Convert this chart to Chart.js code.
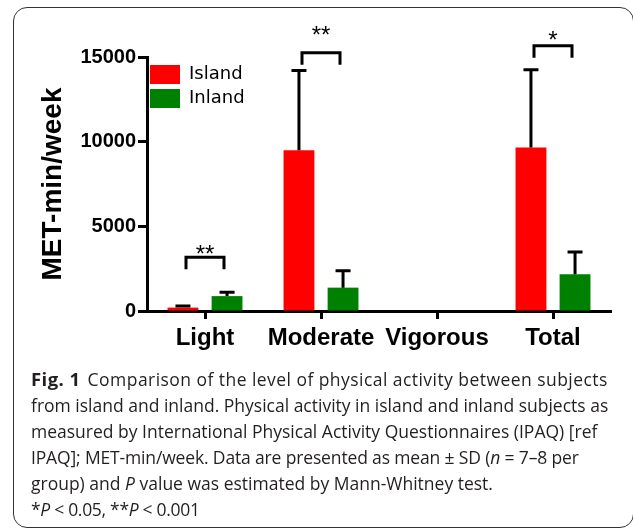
<!DOCTYPE html>
<html>
<head>
<meta charset="utf-8">
<script src="https://cdn.jsdelivr.net/npm/chart.js@4.4.1/dist/chart.umd.min.js"></script>
<style>
  html, body { margin: 0; padding: 0; background: #fff; }
  body { width: 633px; height: 529px; position: relative; overflow: hidden; }
  #chart { position: absolute; left: 0; top: 0; }
  #frame { position: absolute; left: 13px; top: 7px; width: 621px; height: 521px; box-sizing: border-box;
           border: 1.5px solid #333; border-radius: 14px; pointer-events: none; }
  #cap { position: absolute; left: 31px; top: 366px; font-family: 'Open Sans', sans-serif; font-size: 17.5px;
         line-height: 26px; color: #231f20; white-space: nowrap; }
  #cap b { font-weight: 700; font-size: 18.5px; margin-right: 2px; }
  #cap .l1 { letter-spacing: 0.45px; }
  #cap .l4 { letter-spacing: -0.15px; }
  #cap .l6 { letter-spacing: -0.3px; }
</style>
</head>
<body>
<canvas id="chart" width="633" height="365"></canvas>
<div id="frame"></div>
<div id="cap">
  <div class="l1"><b>Fig. 1</b> Comparison of the level of physical activity between subjects</div>
  <div>from island and inland. Physical activity in island and inland subjects as</div>
  <div>measured by International Physical Activity Questionnaires (IPAQ) [ref</div>
  <div class="l4">IPAQ]; MET-min/week. Data are presented as mean ± SD (<i>n</i> = 7–8 per</div>
  <div>group) and <i>P</i> value was estimated by Mann-Whitney test.</div>
  <div class="l6">*<i>P</i> &lt; 0.05, **<i>P</i> &lt; 0.001</div>
</div>
<script>
const categories = ['Light', 'Moderate', 'Vigorous', 'Total'];
const seriesNames = ['Island', 'Inland'];
const islandMean = [200, 9500, 0, 9650];
const islandSD   = [100, 4700, 0, 4600];
const inlandMean = [880, 1380, 0, 2170];
const inlandSD   = [230, 1000, 0, 1320];
const sigLabels  = ['**', '**', '', '*'];
const bracketAt  = [3170, 15250, 0, 15670];
const sigLabelAt = [3720, 16600, 0, 16350];
const yTicks     = [0, 5000, 10000, 15000];

const means = [islandMean, inlandMean];
const sds = [islandSD, inlandSD];

const annotate = {
  id: 'annotate',
  afterLayout(chart) {
    if (chart.legend) {
      chart.legend.left = chart.chartArea.left - 2;
      chart.legend.top = chart.chartArea.top + 3;
    }
  },
  afterDatasetsDraw(chart) {
    const ctx = chart.ctx;
    const ys = chart.scales.y, xs = chart.scales.x;
    ctx.save();
    ctx.strokeStyle = '#000';
    ctx.lineWidth = 3;
    sds.forEach((sd, di) => {
      const meta = chart.getDatasetMeta(di);
      meta.data.forEach((bar, i) => {
        if (!sd[i]) return;
        const top = ys.getPixelForValue(means[di][i] + sd[i]);
        ctx.beginPath();
        ctx.moveTo(bar.x, bar.y);
        ctx.lineTo(bar.x, top);
        ctx.moveTo(bar.x - 7.5, top);
        ctx.lineTo(bar.x + 7.5, top);
        ctx.stroke();
      });
    });
    ctx.fillStyle = '#000';
    ctx.font = '24px "Liberation Sans", Arial, sans-serif';
    ctx.textAlign = 'center';
    ctx.textBaseline = 'alphabetic';
    sigLabels.forEach((lab, i) => {
      if (!lab) return;
      const cx = xs.getPixelForValue(i);
      const yt = ys.getPixelForValue(bracketAt[i]);
      ctx.beginPath();
      ctx.moveTo(cx - 19, yt + 12);
      ctx.lineTo(cx - 19, yt);
      ctx.lineTo(cx + 19, yt);
      ctx.lineTo(cx + 19, yt + 12);
      ctx.stroke();
      ctx.fillText(lab, cx, ys.getPixelForValue(sigLabelAt[i]) + 13.5);
    });
    ctx.restore();
  }
};

new Chart(document.getElementById('chart'), {
  type: 'bar',
  data: {
    labels: categories,
    datasets: [
      { label: seriesNames[0], data: islandMean, backgroundColor: '#ff0000', borderWidth: 0 },
      { label: seriesNames[1], data: inlandMean, backgroundColor: '#008000', borderWidth: 0 }
    ]
  },
  options: {
    responsive: false,
    animation: false,
    devicePixelRatio: 1,
    categoryPercentage: 0.76,
    barPercentage: 0.70,
    layout: { padding: { left: 0, top: 57, right: 22, bottom: 0 } },
    plugins: {
      legend: {
        position: 'chartArea',
        align: 'start',
        labels: {
          boxWidth: 30, boxHeight: 19, padding: 5, color: '#000',
          font: { family: 'DejaVu Sans', size: 18 }
        }
      },
      tooltip: { enabled: false }
    },
    scales: {
      x: {
        offset: true,
        grid: { display: true, drawOnChartArea: false, drawTicks: true, tickLength: 8, tickWidth: 3, tickColor: '#000', offset: false },
        border: { display: true, color: '#000', width: 3 },
        ticks: { color: '#000', font: { family: 'Liberation Sans', weight: 'bold', size: 24 }, padding: 5, maxRotation: 0, autoSkip: false },
        afterFit: s => { s.height = 54; }
      },
      y: {
        min: 0, max: 15000,
        afterBuildTicks: s => { s.ticks = yTicks.map(v => ({ value: v })); },
        grid: { display: true, drawOnChartArea: false, drawTicks: true, tickLength: 9, tickWidth: 3, tickColor: '#000' },
        border: { display: true, color: '#000', width: 3 },
        ticks: { color: '#000', font: { family: 'Liberation Sans', weight: 'bold', size: 20 }, padding: 2,
                 callback: v => String(v) },
        title: { display: true, text: 'MET-min/week', color: '#000',
                 font: { family: 'Liberation Sans', weight: 'bold', size: 28, lineHeight: 1 },
                 padding: { top: 39, bottom: 0 } },
        afterFit: s => { s.width = 147; }
      }
    }
  },
  plugins: [annotate]
});
</script>
</body>
</html>
